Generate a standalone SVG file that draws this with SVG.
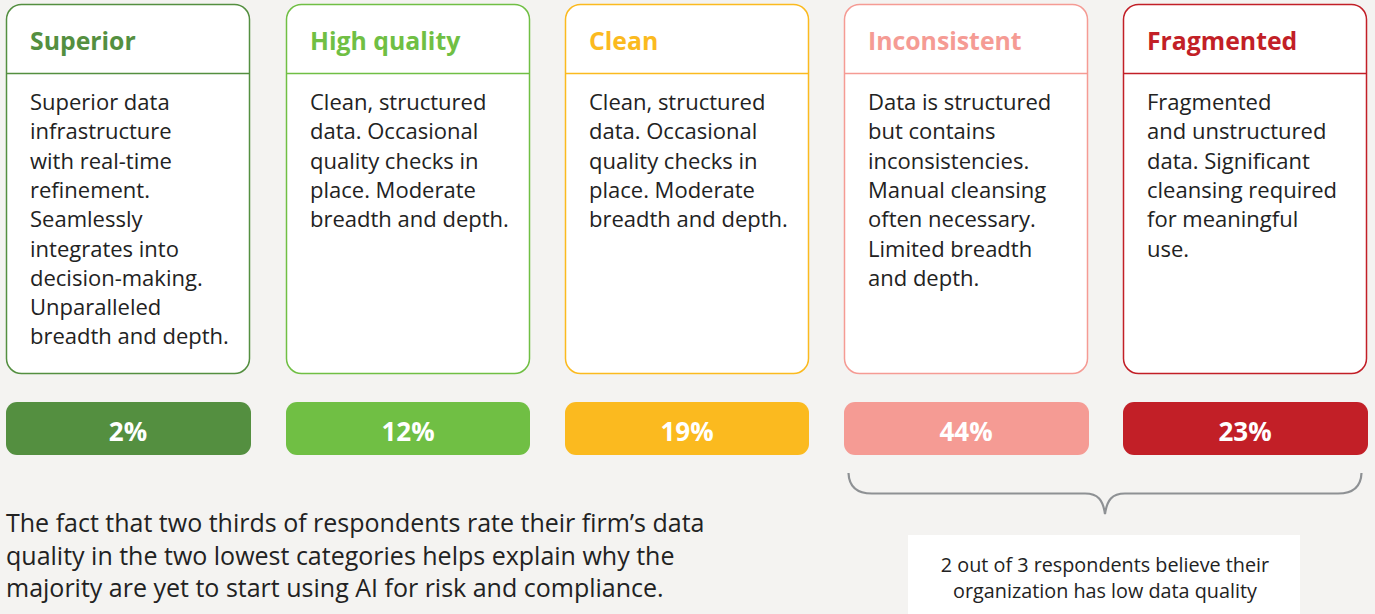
<svg xmlns="http://www.w3.org/2000/svg" width="1375" height="614" viewBox="0 0 1375 614">
<style>
.card{fill:#fff;stroke-width:1.5}
.title{font-family:"Open Sans","Noto Sans",sans-serif;font-weight:bold;font-size:24.8px}
.body{font-family:"Open Sans","Noto Sans",sans-serif;font-size:22px;fill:#222}
.pct{font-family:"Open Sans","Noto Sans",sans-serif;font-weight:bold;font-size:26px;fill:#fff;text-anchor:middle}
.note{font-family:"Open Sans","Noto Sans",sans-serif;font-size:25px;fill:#222}
.small{font-family:"Open Sans","Noto Sans",sans-serif;font-size:19.8px;fill:#222;text-anchor:middle}
</style>
<rect width="1375" height="614" fill="#F4F3F1"/>
<g id="superior">
<rect class="card" x="6.5" y="4.5" width="243" height="369" rx="15" stroke="#548F40"/>
<line x1="6.5" y1="73.5" x2="249.5" y2="73.5" stroke="#548F40" stroke-width="1.5"/>
<text class="title" x="30" y="50" fill="#548F40">Superior</text>
<text class="body" x="30" y="110"><tspan x="30">Superior data</tspan><tspan x="30" dy="29.3">infrastructure</tspan><tspan x="30" dy="29.3">with real-time</tspan><tspan x="30" dy="29.3">refinement.</tspan><tspan x="30" dy="29.3">Seamlessly</tspan><tspan x="30" dy="29.3">integrates into</tspan><tspan x="30" dy="29.3">decision-making.</tspan><tspan x="30" dy="29.3">Unparalleled</tspan><tspan x="30" dy="29.3">breadth and depth.</tspan></text>
</g>
<g id="high-quality">
<rect class="card" x="286.5" y="4.5" width="243" height="369" rx="15" stroke="#70BF44"/>
<line x1="286.5" y1="73.5" x2="529.5" y2="73.5" stroke="#70BF44" stroke-width="1.5"/>
<text class="title" x="310" y="50" fill="#70BF44">High quality</text>
<text class="body" x="310" y="110"><tspan x="310">Clean, structured</tspan><tspan x="310" dy="29.3">data. Occasional</tspan><tspan x="310" dy="29.3">quality checks in</tspan><tspan x="310" dy="29.3">place. Moderate</tspan><tspan x="310" dy="29.3">breadth and depth.</tspan></text>
</g>
<g id="clean">
<rect class="card" x="565.5" y="4.5" width="243" height="369" rx="15" stroke="#FBBA1F"/>
<line x1="565.5" y1="73.5" x2="808.5" y2="73.5" stroke="#FBBA1F" stroke-width="1.5"/>
<text class="title" x="589" y="50" fill="#FBBA1F">Clean</text>
<text class="body" x="589" y="110"><tspan x="589">Clean, structured</tspan><tspan x="589" dy="29.3">data. Occasional</tspan><tspan x="589" dy="29.3">quality checks in</tspan><tspan x="589" dy="29.3">place. Moderate</tspan><tspan x="589" dy="29.3">breadth and depth.</tspan></text>
</g>
<g id="inconsistent">
<rect class="card" x="844.5" y="4.5" width="243" height="369" rx="15" stroke="#F59B94"/>
<line x1="844.5" y1="73.5" x2="1087.5" y2="73.5" stroke="#F59B94" stroke-width="1.5"/>
<text class="title" x="868" y="50" fill="#F59B94">Inconsistent</text>
<text class="body" x="868" y="110"><tspan x="868">Data is structured</tspan><tspan x="868" dy="29.3">but contains</tspan><tspan x="868" dy="29.3">inconsistencies.</tspan><tspan x="868" dy="29.3">Manual cleansing</tspan><tspan x="868" dy="29.3">often necessary.</tspan><tspan x="868" dy="29.3">Limited breadth</tspan><tspan x="868" dy="29.3">and depth.</tspan></text>
</g>
<g id="fragmented">
<rect class="card" x="1123.5" y="4.5" width="243" height="369" rx="15" stroke="#C21F27"/>
<line x1="1123.5" y1="73.5" x2="1366.5" y2="73.5" stroke="#C21F27" stroke-width="1.5"/>
<text class="title" x="1147" y="50" fill="#C21F27">Fragmented</text>
<text class="body" x="1147" y="110"><tspan x="1147">Fragmented</tspan><tspan x="1147" dy="29.3">and unstructured</tspan><tspan x="1147" dy="29.3">data. Significant</tspan><tspan x="1147" dy="29.3">cleansing required</tspan><tspan x="1147" dy="29.3">for meaningful</tspan><tspan x="1147" dy="29.3">use.</tspan></text>
</g>
<g id="bar-superior"><rect x="6" y="402" width="245" height="53" rx="11" fill="#548F40"/><text class="pct" x="128" y="441">2%</text></g>
<g id="bar-high-quality"><rect x="286" y="402" width="244" height="53" rx="11" fill="#70BF44"/><text class="pct" x="408" y="441">12%</text></g>
<g id="bar-clean"><rect x="565" y="402" width="244" height="53" rx="11" fill="#FBBA1F"/><text class="pct" x="687" y="441">19%</text></g>
<g id="bar-inconsistent"><rect x="844" y="402" width="245" height="53" rx="11" fill="#F59B94"/><text class="pct" x="966" y="441">44%</text></g>
<g id="bar-fragmented"><rect x="1123" y="402" width="245" height="53" rx="11" fill="#C21F27"/><text class="pct" x="1245" y="441">23%</text></g>
<g id="connectors">
<path d="M848.5 473 C849 486 856 493.5 872 493.5 L1085 493.5 C1098 493.5 1103 500 1105 514 C1107 500 1112 493.5 1125 493.5 L1338 493.5 C1354 493.5 1361 486 1361.5 473" fill="none" stroke="#8E9194" stroke-width="2.2"/>
</g>
<g id="note-box">
<rect x="908" y="535" width="392" height="79" fill="#fff"/>
<text class="small" x="1105" y="572">2 out of 3 respondents believe their</text>
<text class="small" x="1105" y="598">organization has low data quality</text>
</g>
<g id="summary">
<text class="note" x="6" y="532">The fact that two thirds of respondents rate their firm’s data</text>
<text class="note" x="6" y="564.5">quality in the two lowest categories helps explain why the</text>
<text class="note" x="6" y="597">majority are yet to start using AI for risk and compliance.</text>
</g>
</svg>
